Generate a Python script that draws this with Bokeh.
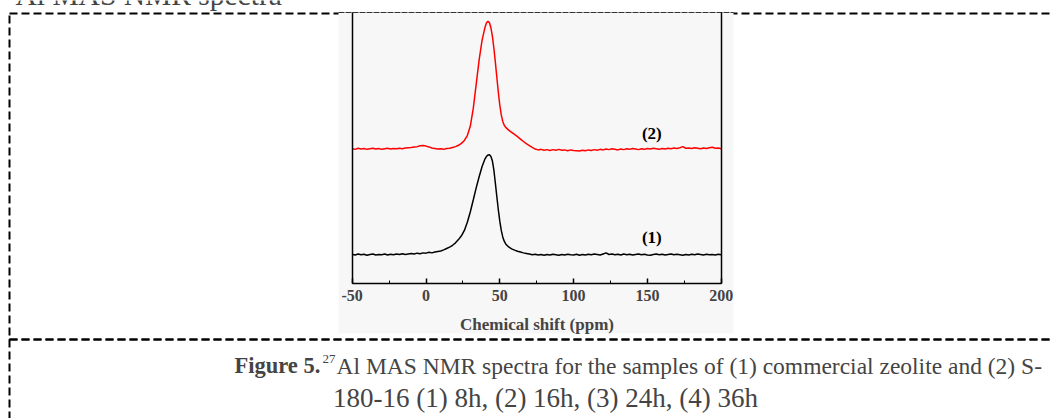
from bokeh.plotting import figure
from bokeh.models import (Range1d, LinearAxis, Label, BoxAnnotation, SingleIntervalTicker,
                          FixedTicker, CustomJSTickFormatter)
from bokeh.core.properties import value
from bokeh.embed import file_html
from bokeh.resources import INLINE

# ---- data (chemical shift in ppm, intensity in a.u.) ----
shift_1 = [-50, -48, -46, -44, -42, -40, -38, -36, -34, -32, -30, -28, -26, -24, -22, -20,
           -18, -16, -14, -12, -10, -8, -6, -4, -2, 0, 2, 4, 6, 8, 10, 12, 14, 16, 18, 20,
           22, 24, 26, 28, 30, 32, 34, 36, 38, 40, 41, 42, 43, 44, 45, 46, 47, 48, 49, 50,
           51, 52, 53, 54, 56, 58, 60, 62, 64, 66, 68, 70, 72, 74, 76, 78, 80, 82, 84, 86,
           88, 90, 92, 94, 96, 98, 100, 102, 104, 106, 108, 110, 112, 114, 116, 118, 120,
           122, 124, 126, 128, 130, 132, 134, 136, 138, 140, 142, 144, 146, 148, 150, 152,
           154, 156, 158, 160, 162, 164, 166, 168, 170, 172, 174, 176, 178, 180, 182, 184,
           186, 188, 190, 192, 194, 196, 198, 200]
intensity_1 = [10.8, 10.5, 10.9, 10.6, 10.8, 10.4, 10.7, 10.9, 10.5, 10.7, 10.6, 10.9, 10.5,
               10.8, 10.6, 10.9, 10.7, 11.0, 10.7, 10.9, 11.1, 10.9, 11.2, 11.0, 11.3, 11.2,
               11.5, 11.3, 11.6, 11.8, 12.0, 12.4, 12.9, 13.4, 14.1, 15.0, 16.2, 17.6, 19.6,
               22.6, 26.4, 30.8, 35.3, 39.4, 43.2, 46.0, 46.9, 47.4, 47.5, 46.9, 45.2, 41.8,
               37.0, 32.0, 27.2, 23.0, 19.6, 17.2, 15.6, 14.6, 13.5, 12.8, 12.3, 11.9, 11.6,
               11.3, 11.1, 10.9, 10.6, 10.8, 10.5, 10.7, 10.4, 10.7, 10.5, 10.8, 10.6, 10.4,
               10.7, 10.5, 10.8, 10.6, 10.5, 10.8, 10.4, 10.7, 10.5, 10.8, 10.6, 10.9, 10.7,
               10.5, 10.9, 11.3, 10.7, 10.9, 10.6, 10.8, 10.5, 10.9, 10.6, 10.8, 10.5, 10.7,
               10.9, 10.6, 10.8, 10.5, 10.4, 10.7, 10.9, 10.6, 10.8, 10.5, 10.7, 10.9, 10.6,
               10.8, 10.6, 10.4, 10.7, 10.5, 10.8, 10.6, 10.9, 10.7, 10.5, 10.8, 10.6, 10.7,
               10.5, 10.8, 10.6]

shift_2 = shift_1
intensity_2 = [49.8, 49.5, 49.9, 49.6, 49.8, 49.5, 49.7, 49.9, 49.6, 49.8, 49.5, 49.7, 49.9,
               49.6, 49.8, 49.7, 49.9, 49.7, 50.0, 50.1, 50.2, 50.4, 50.5, 50.8, 50.9, 50.7,
               50.4, 50.0, 49.8, 49.6, 49.7, 49.5, 49.8, 49.9, 50.2, 50.5, 51.0, 51.7, 52.8,
               54.6, 58.0, 64.5, 73.5, 82.5, 89.8, 94.6, 96.2, 96.8, 96.2, 94.3, 91.2, 86.8,
               81.6, 76.0, 70.6, 65.8, 62.2, 59.8, 58.4, 57.6, 56.6, 55.8, 55.0, 54.2, 53.3,
               52.4, 51.6, 50.9, 50.2, 49.6, 49.3, 49.5, 49.2, 49.4, 49.1, 49.4, 49.2, 49.5,
               49.2, 49.3, 49.0, 49.3, 49.1, 49.0, 48.9, 49.2, 49.0, 49.3, 49.1, 49.4, 49.2,
               49.5, 49.3, 49.6, 49.4, 49.7, 49.5, 49.3, 49.6, 49.4, 49.7, 49.5, 49.8, 49.6,
               49.4, 49.7, 49.5, 49.8, 49.6, 49.9, 49.7, 49.5, 49.8, 49.6, 49.9, 49.7, 50.0,
               49.8, 50.1, 50.5, 49.9, 50.0, 49.8, 50.1, 49.9, 49.7, 50.0, 49.8, 50.1, 50.3,
               49.9, 50.0, 49.7]

series_names = ["(1)", "(2)"]
name_shift = [153, 153]
name_intensity = [16.9, 55.2]

x_min, x_max = -50, 200
y_min, y_max = 0, 100
x_title = "Chemical shift (ppm)"

page_head = "Al MAS NMR spectra"
caption_bold = "Figure 5."
caption_sup = "27"
caption_rest = "Al MAS NMR spectra for the samples of (1) commercial zeolite and (2) S-"
caption_line2 = "180-16 (1) 8h, (2) 16h, (3) 24h, (4) 36h"

# ---- layout: canvas fills the window; chart box in page pixels ----
W, H = 1051, 418
CH_L, CH_R, CH_T, CH_B = 351.7, 720.7, 12.0, 283.0
kx = (CH_R - CH_L) / (x_max - x_min)
ky = (CH_B - CH_T) / (y_max - y_min)
x_start = x_min - CH_L / kx
x_end = x_max + (W - CH_R) / kx
y_start = y_min - (H - CH_B) / ky
y_end = y_max + CH_T / ky

def sx(px):
    return px
def sy(py):
    return H - py

SERIF = "Liberation Serif"

p = figure(width=W, height=H, output_backend="svg", toolbar_location=None,
           x_range=Range1d(x_start, x_end), y_range=Range1d(y_start, y_end),
           x_axis_type=None, y_axis_type=None,
           min_border=0, background_fill_color="white",
           border_fill_color="white", outline_line_color=None)
p.grid.visible = False

scr = dict(left_units="screen", right_units="screen", top_units="screen",
           bottom_units="screen", level="underlay")

# dashed table borders (thick, page level)
dash_kw = dict(fill_alpha=0, line_color="black", line_alpha=1.0,
               line_width=2, line_dash="8 4", **scr)
p.add_layout(BoxAnnotation(left=sx(9), right=sx(1080), top=sy(13), bottom=sy(339), **dash_kw))
p.add_layout(BoxAnnotation(left=sx(9), right=sx(1080), top=sy(339), bottom=sy(460), **dash_kw))

# image background of the embedded chart (covers the page border beneath it)
p.add_layout(BoxAnnotation(left=sx(338), right=sx(733), top=sy(11), bottom=sy(333),
                           fill_color="#f7f7f7", fill_alpha=1.0, line_color=None, **scr))
# thin dashed edge at the top of the embedded image
p.add_layout(BoxAnnotation(left=sx(338), right=sx(733), top=sy(12), bottom=sy(12),
                           fill_alpha=0, line_color="#333333", line_alpha=1.0,
                           line_width=1, line_dash="4 3", **scr))

# spectra
p.line(shift_1, intensity_1, line_color="black", line_width=1.5)
p.line(shift_2, intensity_2, line_color="#ff0000", line_width=1.5)
p.text(name_shift, name_intensity, text=series_names, text_font=value(SERIF),
       text_font_style="bold", text_font_size="17px", text_align="center",
       text_baseline="middle", text_color="black")

# axes, fixed at the chart box edges
ax = LinearAxis(fixed_location=y_min, bounds=(x_min, x_max),
                ticker=SingleIntervalTicker(interval=50, num_minor_ticks=2),
                formatter=CustomJSTickFormatter(code="return String(tick)"))
ax.axis_label = x_title
ax.axis_label_text_font = SERIF
ax.axis_label_text_font_style = "bold"
ax.axis_label_text_font_size = "17px"
ax.axis_label_standoff = 11
ax.major_label_text_font = SERIF
ax.major_label_text_font_style = "bold"
ax.major_label_text_font_size = "16px"
ax.major_label_standoff = 6
ax.major_tick_in = 5
ax.major_tick_out = 0
ax.minor_tick_in = 3
ax.minor_tick_out = 0
ax.axis_line_width = 1.5
ax.major_tick_line_width = 1.5
p.add_layout(ax, "below")

for loc, side in ((x_min, "left"), (x_max, "right")):
    a = LinearAxis(fixed_location=loc, bounds=(y_min, y_max), ticker=FixedTicker(ticks=[]),
                   axis_line_width=1.5, major_tick_line_color=None,
                   minor_tick_line_color=None)
    p.add_layout(a, side)

# text of the page around the chart
p.add_layout(Label(x=sx(15), y=sy(-6), x_units="screen", y_units="screen",
                   text=page_head, text_font=SERIF, text_font_size="29.5px",
                   text_baseline="alphabetic", text_align="left"))
p.add_layout(Label(x=sx(234), y=sy(365), x_units="screen", y_units="screen",
                   text=caption_bold, text_font=SERIF, text_font_style="bold",
                   text_font_size="22.5px", text_baseline="middle", text_align="left"))
p.add_layout(Label(x=sx(322), y=sy(358), x_units="screen", y_units="screen",
                   text=caption_sup, text_font=SERIF, text_font_size="13px",
                   text_baseline="middle", text_align="left"))
p.add_layout(Label(x=sx(336), y=sy(365), x_units="screen", y_units="screen",
                   text=caption_rest, text_font=SERIF, text_font_size="23.5px",
                   text_baseline="middle", text_align="left"))
p.add_layout(Label(x=sx(545), y=sy(397), x_units="screen", y_units="screen",
                   text=caption_line2, text_font=SERIF, text_font_size="27px",
                   text_baseline="middle", text_align="center"))

open("out.html", "w").write(file_html(p, INLINE))
